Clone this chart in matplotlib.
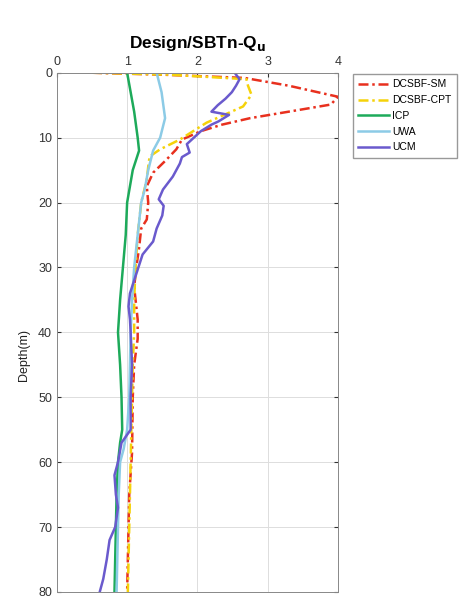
import matplotlib
matplotlib.use('Agg')
import matplotlib.pyplot as plt

plt.rcParams['font.family'] = ['Liberation Sans', 'DejaVu Sans']

# DCSBF-SM
sm_d = [0, 0.3, 0.8, 2.0, 3.7, 4.9, 6.0, 7.0, 8.0, 9.0, 10.3, 11.8, 13.5, 15.4, 17.5, 20, 22.6, 24, 27, 30, 33, 36, 38, 41, 45, 50, 58.5, 65, 70, 75, 80]
sm_v = [0.5, 1.5, 2.67, 3.3, 4.0, 3.9, 3.3, 2.75, 2.35, 2.05, 1.78, 1.7, 1.55, 1.37, 1.28, 1.3, 1.28, 1.2, 1.17, 1.13, 1.1, 1.13, 1.15, 1.15, 1.1, 1.08, 1.07, 1.03, 1.02, 1.01, 1.0]
# DCSBF-CPT
cpt_d = [0, 0.3, 1.0, 2.0, 3.4, 5.2, 7.7, 10.3, 11.8, 12.9, 14.5, 16.5, 20, 25, 30, 35, 40, 45, 50, 55, 60, 65, 70, 75, 80]
cpt_v = [0.5, 1.6, 2.7, 2.72, 2.77, 2.65, 2.13, 1.75, 1.47, 1.32, 1.3, 1.28, 1.2, 1.15, 1.12, 1.1, 1.1, 1.08, 1.07, 1.06, 1.05, 1.04, 1.03, 1.02, 1.01]
# ICP
icp_d = [0, 3, 6, 10, 12, 15, 20, 25, 30, 35, 40, 45, 50, 55, 57, 60, 65, 70, 75, 80]
icp_v = [1.0, 1.05, 1.1, 1.15, 1.17, 1.08, 1.0, 0.98, 0.94, 0.9, 0.87, 0.9, 0.92, 0.93, 0.9, 0.87, 0.85, 0.84, 0.83, 0.82]
# UWA
uwa_d = [0, 3, 7, 10, 12, 15, 18, 20, 25, 30, 35, 40, 45, 50, 55, 58, 60, 65, 70, 75, 80]
uwa_v = [1.42, 1.49, 1.54, 1.47, 1.37, 1.3, 1.25, 1.2, 1.15, 1.1, 1.07, 1.05, 1.04, 1.03, 1.0, 0.95, 0.9, 0.88, 0.87, 0.86, 0.85]
# UCM
ucm_d = [0, 1, 2, 3, 4, 5, 6, 6.5, 7.5, 8, 9, 10, 11, 12.3, 13, 14, 16, 18, 19.5, 20.5, 22, 24, 26, 28, 30, 32, 34, 36, 38, 40, 45, 50, 55, 57, 60, 62, 65, 67, 70, 72, 75, 78, 80]
ucm_v = [2.53, 2.6, 2.55, 2.49, 2.4, 2.29, 2.2, 2.45, 2.3, 2.2, 2.05, 1.95, 1.85, 1.89, 1.78, 1.75, 1.65, 1.51, 1.45, 1.52, 1.5, 1.42, 1.37, 1.22, 1.16, 1.1, 1.04, 1.02, 1.04, 1.05, 1.07, 1.05, 1.05, 0.92, 0.87, 0.82, 0.84, 0.87, 0.83, 0.75, 0.71, 0.66, 0.61]

fig = plt.figure(figsize=(4.70, 6.01), dpi=100)
ax = fig.add_axes([0.121, 0.015, 0.598, 0.864])

dd = (4, 1.5, 1, 1.5)
ax.plot(sm_v, sm_d, color='#E8301E', linestyle=(0, dd), lw=1.8, label='DCSBF-SM')
ax.plot(cpt_v, cpt_d, color='#F5D20A', linestyle=(0, dd), lw=1.8, label='DCSBF-CPT')
ax.plot(icp_v, icp_d, color='#1DAA5A', lw=1.8, label='ICP')
ax.plot(uwa_v, uwa_d, color='#8CCBE6', lw=1.8, label='UWA')
ax.plot(ucm_v, ucm_d, color='#6A5ACD', lw=1.8, label='UCM')

ax.set_xlim(0, 4)
ax.set_ylim(80, 0)
ax.set_xticks([0, 1, 2, 3, 4])
ax.set_yticks(range(0, 81, 10))
ax.xaxis.tick_top()
ax.tick_params(direction='in', labelsize=9, colors='#333333', length=3, top=True, right=True)
ax.grid(True, color='#dddddd', lw=0.7)
for s in ax.spines.values():
    s.set_color('#888888')
    s.set_linewidth(0.7)
ax.set_ylabel('Depth(m)', fontsize=9, color='#222222')
ax.yaxis.set_label_coords(-0.095, 0.457)
ax.set_title(r'Design/SBTn-Q$_\mathbf{u}$', fontsize=12.5, fontweight='bold', pad=18)

ax.legend(loc='upper left', bbox_to_anchor=(1.053, 0.997), fontsize=7.5, fancybox=False,
          edgecolor='#999999', framealpha=1, handlelength=3.0, borderaxespad=0,
          labelspacing=0.55, handletextpad=0.3, borderpad=0.5)

fig.savefig('out.png', dpi=100)
